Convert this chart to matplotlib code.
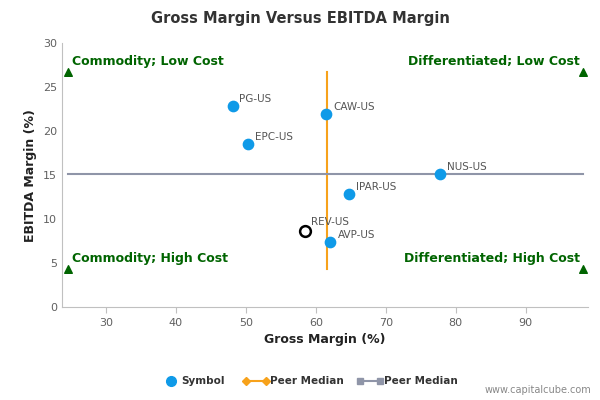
import matplotlib
matplotlib.use("Agg")
import matplotlib.pyplot as plt

symbols = ["PG-US", "CAW-US", "EPC-US", "NUS-US", "IPAR-US", "AVP-US"]
gross = [48.1, 61.5, 50.3, 77.7, 64.8, 62.1]
ebitda = [22.9, 21.9, 18.5, 15.1, 12.9, 7.4]
subject = "REV-US"
subj_gross, subj_ebitda = 58.5, 8.7
med_gross, med_ebitda = 61.6, 15.1
xmin, xmax, ymin, ymax = 24.6, 98.2, 4.3, 26.7

fig = plt.figure(figsize=(6, 4), dpi=100)
ax = fig.add_axes([0.103, 0.232, 0.877, 0.66])
ax.set_xlim(23.7, 98.9)
ax.set_ylim(0, 30)
ax.set_xticks(range(30, 100, 10))
ax.set_yticks(range(0, 31, 5))
for s in ["top", "right"]:
    ax.spines[s].set_visible(False)
for s in ["left", "bottom"]:
    ax.spines[s].set_color("#c0c0c0")
ax.tick_params(colors="#606060", labelsize=8, length=0)
ax.tick_params(axis="x", length=4, color="#c0c0c0")

ax.plot([med_gross, med_gross], [ymin, ymax], color="#f7a21b", lw=1.5, zorder=2)
ax.plot([xmin, xmax], [med_ebitda, med_ebitda], color="#8f95a8", lw=1.5, zorder=2)
ax.scatter(gross, ebitda, s=55, color="#0f9ae8", zorder=3)
for g, e, t in zip(gross, ebitda, symbols):
    ax.annotate(t, (g, e), xytext=(5, 3), textcoords="offset points", fontsize=7.5, color="#555555")
ax.scatter([subj_gross], [subj_ebitda], s=60, facecolor="white", edgecolor="black", lw=1.8, zorder=4)
ax.annotate(subject, (subj_gross, subj_ebitda), xytext=(4, 4), textcoords="offset points", fontsize=7.5, color="#555555")

green = "#006400"
ax.scatter([xmin, xmax, xmin, xmax], [ymax, ymax, ymin, ymin], marker="^", s=30, color=green, zorder=4, clip_on=False)
kw = dict(color=green, fontsize=9, fontweight="bold")
ax.text(xmin + 0.5, ymax + 0.5, "Commodity; Low Cost", ha="left", va="bottom", **kw)
ax.text(xmax - 0.5, ymax + 0.5, "Differentiated; Low Cost", ha="right", va="bottom", **kw)
ax.text(xmin + 0.5, ymin + 0.5, "Commodity; High Cost", ha="left", va="bottom", **kw)
ax.text(xmax - 0.5, ymin + 0.5, "Differentiated; High Cost", ha="right", va="bottom", **kw)

ax.set_xlabel("Gross Margin (%)", fontsize=9, fontweight="bold", color="#222222")
ax.set_ylabel("EBITDA Margin (%)", fontsize=9, fontweight="bold", color="#222222")
fig.text(0.5, 0.955, "Gross Margin Versus EBITDA Margin", ha="center", va="center", fontsize=10.5, fontweight="bold", color="#333333")

# legend
ly = 0.047
fig.lines.append(plt.Line2D([0.285], [ly], marker="o", ms=7, color="#0f9ae8", transform=fig.transFigure))
fig.text(0.302, ly, "Symbol", fontsize=7.5, fontweight="bold", va="center", color="#333333")
fig.lines.append(plt.Line2D([0.41, 0.443], [ly, ly], marker="D", ms=4, color="#f7a21b", transform=fig.transFigure))
fig.text(0.45, ly, "Peer Median", fontsize=7.5, fontweight="bold", va="center", color="#333333")
fig.lines.append(plt.Line2D([0.6, 0.633], [ly, ly], marker="s", ms=5, color="#8f95a8", transform=fig.transFigure))
fig.text(0.64, ly, "Peer Median", fontsize=7.5, fontweight="bold", va="center", color="#333333")
fig.text(0.985, 0.018, "www.capitalcube.com", ha="right", fontsize=7, color="#888888")

fig.savefig("out.png", dpi=100)
